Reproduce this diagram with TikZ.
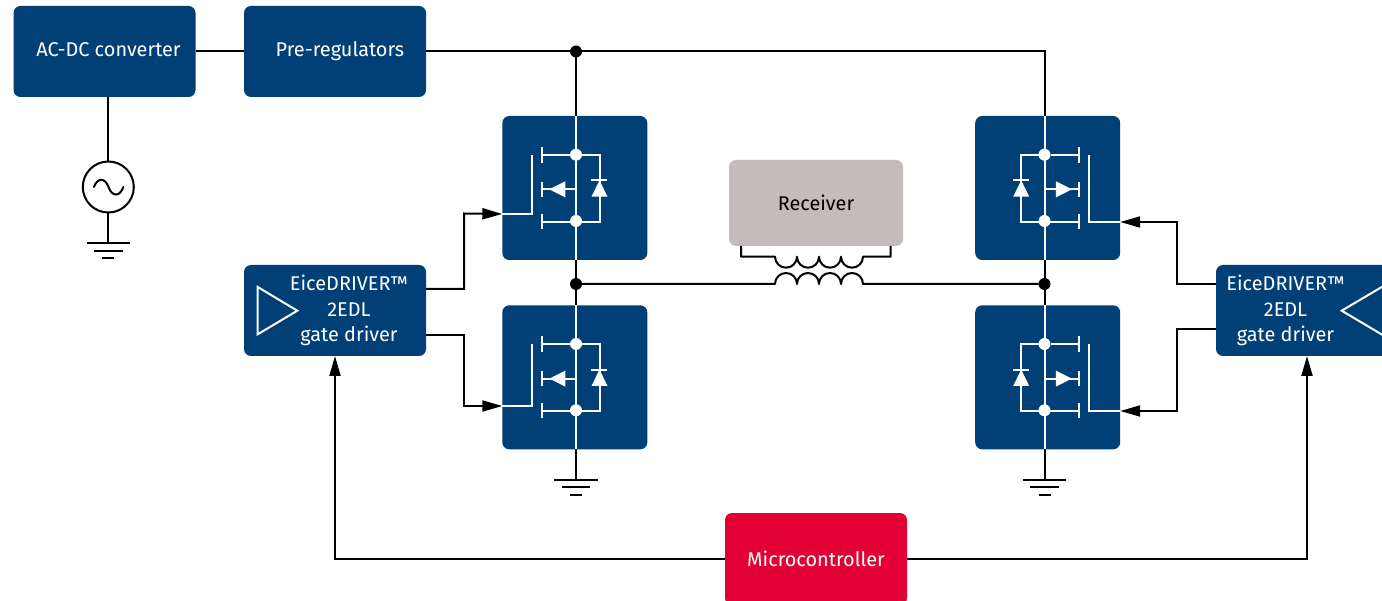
\documentclass[tikz,border=0pt]{standalone}
\usepackage{fontspec}
\setmainfont{Fira Sans}
\usetikzlibrary{arrows.meta,calc}
\definecolor{ifxblue}{HTML}{004077}
\definecolor{ifxred}{HTML}{E30034}
\definecolor{ifxgray}{HTML}{C4BBBB}
\tikzset{
  block/.style={fill=#1,rounded corners=7pt,inner sep=0pt,outer sep=0pt,text=white,align=center,
    font=\fontsize{19.9}{25.5}\selectfont},
  wide/.style={minimum width=182pt,minimum height=91pt},
  cell/.style={fill=ifxblue,rounded corners=7pt,inner sep=0pt,outer sep=0pt,minimum width=145pt,minimum height=144pt},
  wire/.style={draw=black,line width=2pt},
  arrowed/.style={wire,-{Triangle[length=20pt,width=11pt]},line join=miter},
  white line/.style={draw=white,line width=2pt},
  white dot/.style={circle,fill=white,inner sep=0pt,minimum size=12pt,outer sep=0pt},
  junction/.style={circle,fill=black,inner sep=0pt,minimum size=12pt,outer sep=0pt},
  gnd/.style={draw=black,line width=2pt}
}
% name, x, y, gate end rel
\newcommand{\mosleft}[4]{%
 \begin{scope}[shift={(#2,#3)}]
  \node[cell] (#1) at (72.5,72) {};
  \coordinate (#1top) at (73.7,0);
  \coordinate (#1bot) at (73.7,144);
  \coordinate (#1gate) at (0,#4);
  \node[white dot] (#1d) at (73.7,38.7) {};
  \node[white dot] (#1s) at (73.7,105) {};
  \draw[white line] (#1top) -- (#1bot);
  \draw[white line] (40,38.7) -- (#1d) -- (97.2,38.7) -- (97.2,105.7) -- (40,105.7);
  \draw[white line] (40,31) -- (40,47) (40,65.7) -- (40,81) (40,98) -- (40,113);
  \draw[white line] (40,73.3) -- (73.7,73.3) -- (#1s);
  \fill[white] (47,73.3) -- (63,65.3) -- (63,81.3) -- cycle;
  \draw[white line] (88.7,64.3) -- (105,64.3);
  \fill[white] (97.2,64.3) -- (105.2,80.7) -- (89.2,80.7) -- cycle;
  \draw[white line] (30,38.7) -- (30,#4) -- (#1gate);
 \end{scope}}
\newcommand{\mosright}[4]{%
 \begin{scope}[shift={(#2,#3)}]
  \node[cell] (#1) at (72.5,72) {};
  \coordinate (#1top) at (69.3,0);
  \coordinate (#1bot) at (69.3,144);
  \coordinate (#1gate) at (145,#4);
  \node[white dot] (#1d) at (69.3,38.7) {};
  \node[white dot] (#1s) at (69.3,105) {};
  \draw[white line] (#1top) -- (#1bot);
  \draw[white line] (103.7,38.7) -- (#1d) -- (46,38.7) -- (46,105.7) -- (103.7,105.7);
  \draw[white line] (103.7,31) -- (103.7,47) (103.7,65.7) -- (103.7,81) (103.7,98) -- (103.7,113);
  \draw[white line] (103.7,73.3) -- (69.3,73.3) -- (#1s);
  \fill[white] (96.7,73.3) -- (80.7,65.3) -- (80.7,81.3) -- cycle;
  \draw[white line] (37.7,64.3) -- (54,64.3);
  \fill[white] (46,64.3) -- (54,80.7) -- (38,80.7) -- cycle;
  \draw[white line] (113.3,38.7) -- (113.3,#4) -- (#1gate);
 \end{scope}}
\newcommand{\earth}[3]{%
  \coordinate (#1) at (#2,#3);
  \draw[gnd] (#2-21.7,#3) -- (#2+21.7,#3)
     (#2-14.3,#3+7.3) -- (#2+14.3,#3+7.3)
     (#2-6,#3+14.6) -- (#2+6,#3+14.6);}
\begin{document}
\begin{tikzpicture}[x=1pt,y=-1pt]
\useasboundingbox (0,0) rectangle (1382,601);
\node[block=ifxblue,wide] (acdc) at (104.5,51.5) {\hspace*{8pt}\raisebox{4pt}{AC-DC converter}};
\node[block=ifxblue,wide] (pre) at (335,51.5) {\hspace*{10pt}\raisebox{3.5pt}{Pre-regulators}};
\node[block=ifxblue,wide] (drvl) at (335,310.5) {\hspace*{28pt}\parbox{130pt}{\centering EiceDRIVER™\\2EDL\\gate driver}};
\node[block=ifxblue,wide] (drvr) at (1307,310.5) {\parbox{130pt}{\centering EiceDRIVER™\\2EDL\\gate driver}\hspace*{43pt}};
\node[block=ifxred,wide,minimum height=92pt] (mcu) at (816,559) {Microcontroller};
\node[block=ifxgray,text=black,minimum width=174pt,minimum height=86pt] (rec) at (816,203) {Receiver};
\mosleft{q1}{502.3}{116}{98}
\mosleft{q2}{502.3}{305.3}{100.7}
\mosright{q3}{975.2}{116}{106}
\mosright{q4}{975.2}{305.3}{105.7}
% driver triangles
\draw[white line,line join=miter] (257.7,287) -- (257.7,334.3) -- (297.3,310.7) -- cycle;
\draw[white line,line join=miter] (1386,284.5) -- (1341.7,310.7) -- (1386,337);
% AC source
\node[circle,draw=black,line width=2pt,minimum size=51pt,inner sep=0pt,outer sep=0pt] (src) at (108.3,187) {};
\draw[wire,line cap=round] (94,187) .. controls (97,178) and (105,177) .. (108.5,187)
   .. controls (112,197) and (120,197) .. (123.3,187);
\earth{g0}{108.3}{243.3}
\draw[wire] (src.north) -- (src.north |- acdc.south);
\draw[wire] (src.south) -- (g0);
% top rail
\draw[wire] (acdc.east |- pre.west) -- (pre.west);
\node[junction] (jt) at (576,51.5) {};
\coordinate (cornertr) at (1044.5,51.5);
\draw[wire] (pre.east) -- (jt) -- (cornertr) -- (q3top);
\draw[wire] (jt) -- (q1top);
% half bridge
\node[junction] (jl) at (576,284) {};
\node[junction] (jr) at (1044.5,284) {};
\draw[wire] (q1bot) -- (q2top);
\draw[wire] (q3bot) -- (q4top);
\earth{g1}{576}{480}
\earth{g2}{1044.5}{480}
\draw[wire] (q2bot) -- (g1);
\draw[wire] (q4bot) -- (g2);
% transformer
\draw[wire,line join=round] (jl) -- (775,284)
  arc[start angle=180,end angle=0,radius=11pt]
  arc[start angle=180,end angle=0,radius=11pt]
  arc[start angle=180,end angle=0,radius=11pt]
  arc[start angle=180,end angle=0,radius=11pt] -- (jr);
\draw[wire,line join=round] (741,246) -- (741,256.7) -- (775,256.7)
  arc[start angle=180,end angle=360,radius=11pt]
  arc[start angle=180,end angle=360,radius=11pt]
  arc[start angle=180,end angle=360,radius=11pt]
  arc[start angle=180,end angle=360,radius=11pt] -- (890.7,256.7) -- (890.7,246);
% gate drives
\draw[arrowed] (426,289) -- (464,289) -- (464,213.5) -- (q1gate);
\draw[arrowed] (426,335) -- (464,335) -- (464,406) -- (q2gate);
\draw[arrowed] (1216,284) -- (1176.5,284) -- (1176.5,222) -- (q3gate);
\draw[arrowed] (1216,329.3) -- (1176.5,329.3) -- (1176.5,411) -- (q4gate);
% controller
\draw[arrowed] (mcu.west |- 0,558.5) -- (335,558.5) -- (drvl.south);
\draw[arrowed] (mcu.east |- 0,558.5) -- (1307,558.5) -- (drvr.south);
\end{tikzpicture}
\end{document}
